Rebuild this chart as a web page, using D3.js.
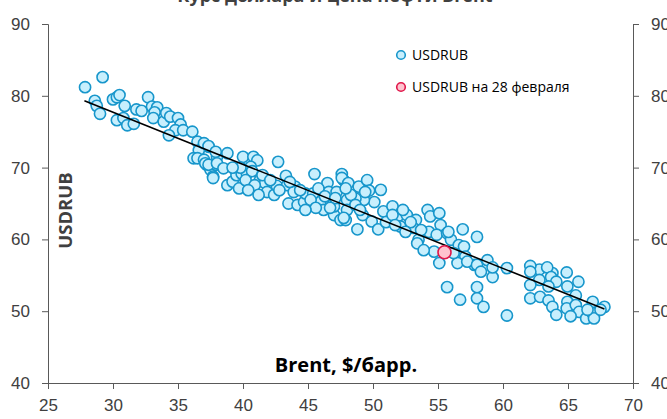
<!DOCTYPE html>
<html>
<head>
<meta charset="utf-8">
<script src="https://cdn.jsdelivr.net/npm/d3@7"></script>
<style>
  body { margin: 0; background: #fff; }
  svg { display: block; font-family: "Open Sans", "Noto Sans", sans-serif; }
  .tick text { fill: #404040; font-size: 17px; }
  .domain, .tick line { stroke: #595959; }
</style>
</head>
<body>
<div id="chart"></div>
<script>
// Brent price, $/bbl
var brent = [
  27.85, 29.2, 28.6, 28.75, 29.0, 30.0, 30.3, 30.5, 30.9, 30.3, 30.8, 31.1, 31.6, 31.8, 32.2, 32.7, 33.0, 33.4, 33.2, 33.1,
  33.9, 34.1, 34.4, 35.0, 35.2, 34.8, 34.3, 35.4, 36.1, 36.5, 37.0, 37.35, 36.6, 36.2, 36.5, 37.0, 37.2, 37.5, 37.9, 37.7,
  38.0, 37.0, 37.35, 37.9, 38.8, 37.1, 37.35, 38.0, 38.5, 37.7, 38.8, 39.2, 39.7, 39.5, 39.9, 40.3, 40.0, 40.8, 41.1, 40.6,
  40.7, 41.3, 41.7, 41.85, 42.4, 42.6, 42.7, 43.3, 43.4, 44.0, 43.9, 43.5, 44.2, 44.7, 44.8, 45.4, 45.5, 45.95, 46.5, 46.6,
  46.9, 47.2, 47.6, 47.75, 46.2, 47.0, 47.5, 47.9, 48.0, 48.0, 47.6, 48.1, 48.9, 49.55, 49.7, 50.6, 50.1, 49.3, 48.65, 47.0,
  47.75, 48.8, 49.2, 49.9, 50.4, 50.8, 51.5, 51.9, 52.1, 52.6, 53.3, 53.1, 53.5, 53.4, 54.2, 54.4, 55.1, 55.2, 54.3, 54.9,
  55.7, 56.0, 56.9, 56.6, 57.0, 57.1, 56.5, 55.1, 54.7, 53.9, 57.8, 58.0, 55.8, 56.2, 57.25, 58.0, 58.8, 58.3, 59.2, 60.3,
  55.7, 56.7, 58.0, 58.0, 58.5, 60.3, 62.8, 63.8, 59.2, 62.1, 62.1, 63.4, 63.7, 64.1, 64.9, 65.8, 62.8, 62.1, 63.5, 64.95,
  65.6, 62.1, 62.85, 63.5, 63.8, 64.1, 64.95, 64.9, 65.6, 65.85, 65.2, 66.4, 66.9, 66.9, 67.0, 67.8, 67.5, 66.5,
  44.4, 45.2, 45.8, 46.3, 47.1, 48.3, 48.65, 49.0, 49.4, 47.9, 46.7, 45.6, 44.8, 40.2, 40.9, 41.5, 42.1, 42.8, 43.6, 39.8,
  39.2, 51.0, 51.5, 52.3, 52.9, 53.7, 52.5, 51.7, 40.4, 41.2
];
// USDRUB rate on the same days
var usdrub = [
  81.2, 82.6, 79.3, 78.6, 77.5, 79.5, 79.8, 80.1, 78.6, 76.6, 76.9, 75.9, 76.1, 78.1, 77.9, 79.8, 78.5, 78.4, 77.7, 76.9,
  76.4, 77.6, 77.1, 76.9, 76.0, 75.2, 74.5, 75.2, 75.0, 73.6, 73.1, 72.9, 72.4, 71.3, 71.3, 71.1, 70.4, 69.7, 70.4, 68.75,
  71.5, 73.4, 73.0, 72.2, 72.0, 70.6, 70.4, 70.6, 69.9, 68.55, 67.55, 68.05, 67.1, 68.95, 69.15, 69.15, 71.5, 71.5, 71.0, 70.1,
  69.5, 68.25, 67.85, 66.6, 66.2, 67.45, 70.8, 68.85, 67.55, 67.35, 66.6, 65.0, 64.8, 65.2, 66.4, 66.4, 69.1, 65.2, 67.85, 66.6,
  64.8, 66.6, 69.1, 68.25, 64.1, 63.4, 62.7, 62.7, 65.5, 64.1, 68.55, 67.85, 67.35, 68.25, 66.8, 66.9, 65.2, 65.5, 65.7, 64.6,
  63.0, 61.4, 63.4, 62.5, 61.4, 63.9, 64.6, 63.2, 61.8, 63.4, 62.7, 61.6, 59.95, 59.45, 64.1, 63.2, 63.65, 62.0, 61.05, 60.65,
  60.85, 59.95, 61.4, 59.2, 59.0, 57.6, 56.7, 56.7, 58.3, 58.5, 56.45, 60.35, 61.05, 58.1, 56.9, 56.45, 57.1, 55.5, 54.75, 56.0,
  53.35, 51.6, 53.35, 51.8, 50.6, 49.4, 55.8, 55.3, 56.1, 56.3, 55.5, 56.1, 54.75, 54.1, 55.4, 54.1, 54.35, 53.65, 53.45, 53.45,
  52.2, 51.8, 52.0, 51.5, 50.6, 49.5, 51.3, 50.4, 50.85, 49.9, 49.3, 49.0, 51.3, 49.7, 49.0, 50.6, 50.2, 50.2,
  66.85, 65.5, 67.1, 66.0, 65.75, 66.2, 64.8, 64.1, 66.6, 67.1, 64.4, 64.4, 64.1, 68.25, 67.55, 68.95, 68.25, 66.85, 68.0, 70.0,
  70.0, 62.4, 63.4, 64.1, 62.4, 61.3, 61.05, 62.0, 66.85, 66.2
];
// 28 February point
var lastBrent = [55.5];
var lastRub = [58.2];
// linear fit, end points
var fitX = [27.8, 67.8];
var fitY = [79.3, 50.3];

var xTicks = [25, 30, 35, 40, 45, 50, 55, 60, 65, 70];
var yTicks = [40, 50, 60, 70, 80, 90];

var svgWidth = 667;
var svgHeight = 419;
var margin = { top: 24, right: 34, bottom: 36, left: 48 };
var chartWidth = svgWidth - margin.left - margin.right;
var chartHeight = svgHeight - margin.top - margin.bottom;

var svg = d3.select("#chart")
  .append("svg")
  .attr("width", svgWidth)
  .attr("height", svgHeight);

// title, mostly cut off by the top edge
svg.append("text")
  .attr("x", 335)
  .attr("y", 2)
  .attr("text-anchor", "middle")
  .attr("font-size", 18)
  .attr("font-weight", "bold")
  .attr("fill", "#404040")
  .text("Курс доллара и цена нефти Brent");

var chartGroup = svg.append("g")
  .attr("transform", `translate(${margin.left}, ${margin.top})`);

var xScale = d3.scaleLinear().domain([25, 70]).range([0, chartWidth]);
var yScale = d3.scaleLinear().domain([40, 90]).range([chartHeight, 0]);

chartGroup.append("g")
  .attr("transform", `translate(0, ${chartHeight})`)
  .call(d3.axisBottom(xScale).tickValues(xTicks).tickSizeOuter(0).tickSize(6).tickPadding(10));

chartGroup.append("g")
  .call(d3.axisLeft(yScale).tickValues(yTicks).tickSizeOuter(0).tickSize(6).tickPadding(12));

chartGroup.append("g")
  .attr("transform", `translate(${chartWidth}, 0)`)
  .call(d3.axisRight(yScale).tickValues(yTicks).tickSizeOuter(0).tickSize(6).tickPadding(12));

// points
var points = brent.map((b, i) => ({ x: b, y: usdrub[i] }));
chartGroup.selectAll("circle.pt")
  .data(points)
  .enter()
  .append("circle")
  .attr("class", "pt")
  .attr("cx", d => xScale(d.x))
  .attr("cy", d => yScale(d.y))
  .attr("r", 5.6)
  .attr("fill", "#c8effd")
  .attr("stroke", "#1796cb")
  .attr("stroke-width", 1.6);

// trend line
chartGroup.append("line")
  .attr("x1", xScale(fitX[0]))
  .attr("y1", yScale(fitY[0]))
  .attr("x2", xScale(fitX[1]))
  .attr("y2", yScale(fitY[1]))
  .attr("stroke", "#000")
  .attr("stroke-width", 1.6);

// 28 Feb
chartGroup.selectAll("circle.last")
  .data(lastBrent)
  .enter()
  .append("circle")
  .attr("class", "last")
  .attr("cx", d => xScale(d))
  .attr("cy", (d, i) => yScale(lastRub[i]))
  .attr("r", 6.5)
  .attr("fill", "#ffc3cf")
  .attr("stroke", "#e0174a")
  .attr("stroke-width", 1.6);

// legend
var legend = svg.append("g").attr("transform", "translate(401, 55)");
legend.append("circle").attr("r", 4.3).attr("fill", "#c8effd").attr("stroke", "#1796cb").attr("stroke-width", 1.6);
legend.append("text").attr("x", 11).attr("y", 5).attr("font-size", 14).attr("fill", "#000").text("USDRUB");
legend.append("circle").attr("cy", 32).attr("r", 4.3).attr("fill", "#ffc3cf").attr("stroke", "#e0174a").attr("stroke-width", 1.6);
legend.append("text").attr("x", 11).attr("y", 37).attr("font-size", 14).attr("fill", "#000").text("USDRUB на 28 февраля");

// axis labels
svg.append("text")
  .attr("transform", `translate(72, ${margin.top + chartHeight / 2 + 7}) rotate(-90)`)
  .attr("text-anchor", "middle")
  .attr("font-size", 18.5)
  .attr("font-weight", "bold")
  .attr("fill", "#404040")
  .text("USDRUB");

svg.append("text")
  .attr("x", 346)
  .attr("y", 372)
  .attr("text-anchor", "middle")
  .attr("font-size", 20)
  .attr("font-weight", "bold")
  .attr("fill", "#000")
  .text("Brent, $/барр.");
</script>
</body>
</html>
